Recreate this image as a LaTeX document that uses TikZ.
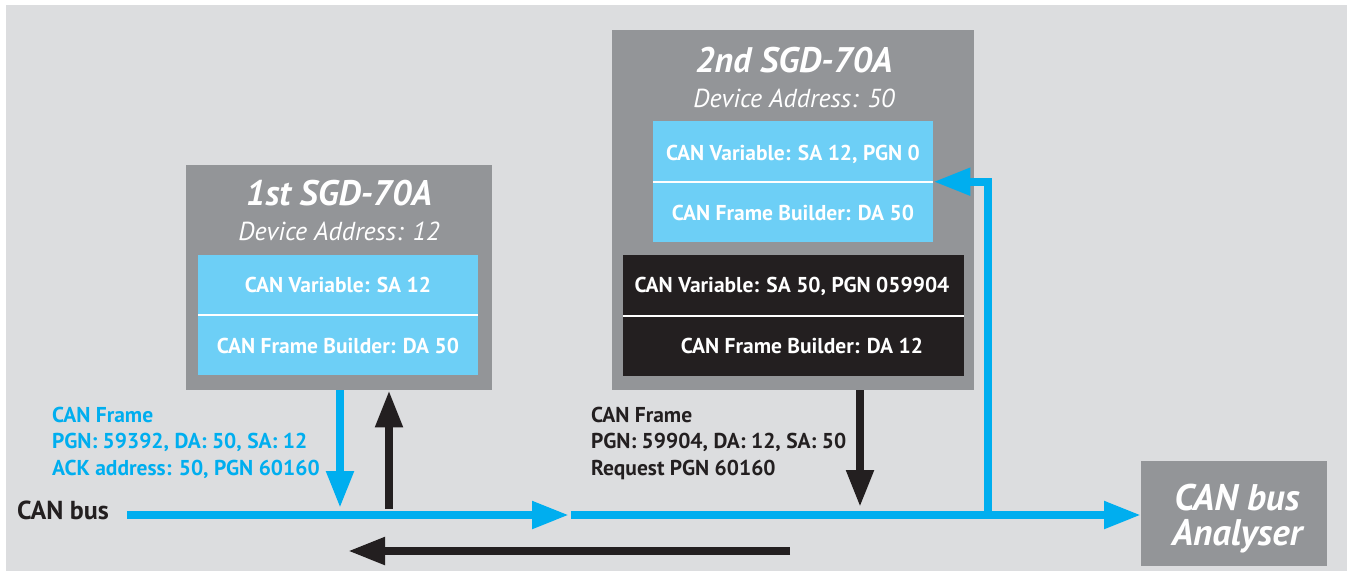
\documentclass[tikz,border=0pt]{standalone}
\usepackage{fontspec}
\setmainfont{PT Sans}
\usetikzlibrary{arrows.meta}
\definecolor{bg}{HTML}{DCDDDF}
\definecolor{boxgray}{HTML}{939598}
\definecolor{lightblue}{HTML}{6DCFF6}
\definecolor{canblue}{HTML}{00AEEF}
\definecolor{ink}{HTML}{231F20}
\tikzset{
  devbox/.style={fill=boxgray, inner sep=0pt, anchor=north west},
  bluebox/.style={fill=lightblue, inner sep=0pt, anchor=north west},
  darkbox/.style={fill=ink, inner sep=0pt, anchor=north west},
  devtitle/.style={text=white, font=\bfseries\itshape\fontsize{35.5}{38}\selectfont, anchor=base, inner sep=0pt},
  devsub/.style={text=white, font=\itshape\fontsize{26}{30}\selectfont, anchor=base, inner sep=0pt},
  rowtext/.style={text=white, font=\bfseries\fontsize{21.5}{24}\selectfont, anchor=base, inner sep=0pt},
  lbl/.style={font=\bfseries\fontsize{21.5}{24}\selectfont, anchor=base west, inner sep=0pt},
  divider/.style={draw=white, line width=2pt},
  bluearrow/.style={draw=canblue, line width=8pt, -{Triangle[length=37pt,width=26pt]}},
  blackarrow/.style={draw=ink, line width=8pt, -{Triangle[length=37pt,width=26pt]}},
}
\begin{document}
\begin{tikzpicture}[x=1pt,y=-1pt]
\useasboundingbox (0,0) rectangle (1351,574);
\fill[bg] (6,5) rectangle (1347,571);

% first device
\node[devbox, minimum width=306pt, minimum height=225pt] (dev1) at (186,165) {};
\node[devtitle] (dev1t) at (339,205) {1st SGD-70A};
\node[devsub] (dev1s) at (339,240) {Device Address: 12};
\node[bluebox, minimum width=280pt, minimum height=120pt] (blue1) at (198,255) {};
\draw[divider] (blue1.west) -- (blue1.east);
\node[rowtext] (b1r1) at (338,292) {CAN Variable: SA 12};
\node[rowtext] (b1r2) at (338,353) {CAN Frame Builder: DA 50};

% second device
\node[devbox, minimum width=362pt, minimum height=360pt] (dev2) at (612,30) {};
\node[devtitle] (dev2t) at (794,72) {2nd SGD-70A};
\node[devsub] (dev2s) at (794,107) {Device Address: 50};
\node[bluebox, minimum width=280pt, minimum height=121pt] (blue2) at (653,121) {};
\draw[divider] (blue2.west) -- (blue2.east);
\node[rowtext] (b2r1) at (793,160) {CAN Variable: SA 12, PGN 0};
\node[rowtext] (b2r2) at (793,220) {CAN Frame Builder: DA 50};
\node[darkbox, minimum width=341pt, minimum height=121pt] (dark2) at (623,255) {};
\draw[divider] (dark2.west) -- (dark2.east);
\node[rowtext] (d2r1) at (792,292) {CAN Variable: SA 50, PGN 059904};
\node[rowtext] (d2r2) at (802,353) {CAN Frame Builder: DA 12};

% analyser
\node[devbox, minimum width=186pt, minimum height=105pt] (ana) at (1141,461) {};
\node[devtitle, font=\bfseries\itshape\fontsize{37}{40}\selectfont] (ana1) at (1237,510) {CAN bus};
\node[devtitle, font=\bfseries\itshape\fontsize{37}{40}\selectfont] (ana2) at (1237,545) {Analyser};

% bus
\node[lbl, text=ink, font=\bfseries\fontsize{26}{30}\selectfont] (buslbl) at (17,519) {CAN bus};
\coordinate (busL) at (127,515);
\coordinate (busM) at (569,515);
\coordinate (busM2) at (571,515);
\coordinate (tap) at (988,515);
\draw[bluearrow] (busL) -- (busM);
\draw[bluearrow] (busM2) -- (ana.west |- busM2);
\draw[bluearrow] (tap) |- (blue2.east);

% vertical arrows
\coordinate (down1) at (340,508);
\coordinate (up1) at (389,509);
\coordinate (down2) at (860,507);
\draw[bluearrow] (dev1.south -| down1) -- (down1);
\draw[blackarrow] (up1) -- (dev1.south -| up1);
\draw[blackarrow] (dev2.south -| down2) -- (down2);

% return arrow
\coordinate (retR) at (790,551);
\coordinate (retL) at (348,551);
\draw[blackarrow] (retR) -- (retL);

% labels
\node[lbl, text=canblue] (la1) at (52,422) {CAN Frame};
\node[lbl, text=canblue] (la2) at (52,448) {PGN: 59392, DA: 50, SA: 12};
\node[lbl, text=canblue] (la3) at (52,475) {ACK address: 50, PGN 60160};
\node[lbl, text=ink] (lb1) at (591,422) {CAN Frame};
\node[lbl, text=ink] (lb2) at (591,448) {PGN: 59904, DA: 12, SA: 50};
\node[lbl, text=ink] (lb3) at (591,475) {Request PGN 60160};
\end{tikzpicture}
\end{document}
